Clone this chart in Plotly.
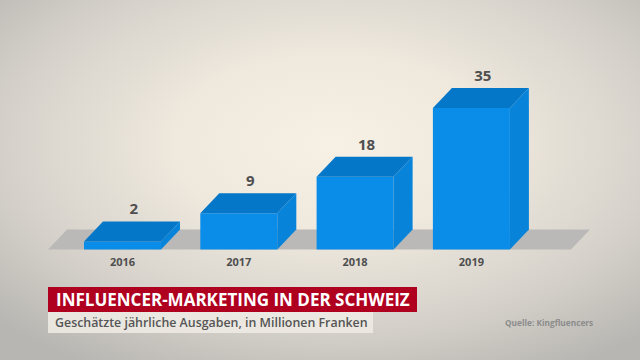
import base64
import plotly.graph_objects as go

# ---- data ----
years = ["2016", "2017", "2018", "2019"]
values = [2, 9, 18, 35]
value_labels = ["2", "9", "18", "35"]

title = "INFLUENCER-MARKETING IN DER SCHWEIZ"
subtitle = "Geschätzte jährliche Ausgaben, in Millionen Franken"
source = "Quelle: Kingfluencers"

# ---- styling / geometry (in axis units) ----
W, H = 640, 360
X0_PX, X_STEP_PX = 122.5, 116.3      # pixel of first category, pixel per category
Y0_PX, Y_STEP_PX = 249.5, 4.04       # pixel of value 0, pixel per unit
HALF_W = 38.5 / X_STEP_PX            # half front width
DX = 19.0 / X_STEP_PX                # depth offset in x
DY = 20.0 / Y_STEP_PX                # depth offset in y
FLOOR_L = (48 - X0_PX) / X_STEP_PX
FLOOR_R = (571 - X0_PX) / X_STEP_PX

C_FRONT = "#0a8de8"
C_TOP = "#0577c9"
C_SIDE = "#0783d9"
C_FLOOR = "#bab9b7"
C_TEXT = "#4f4f4f"

xr = [(0 - X0_PX) / X_STEP_PX, (W - X0_PX) / X_STEP_PX]
yr = [(Y0_PX - H) / Y_STEP_PX, Y0_PX / Y_STEP_PX]

fig = go.Figure()


def poly(xs, ys, color):
    fig.add_trace(go.Scatter(
        x=xs + [xs[0]], y=ys + [ys[0]], mode="lines", fill="toself",
        fillcolor=color, line=dict(width=0, color=color),
        hoverinfo="skip", showlegend=False))


# floor
poly([FLOOR_L, FLOOR_R, FLOOR_R + DX, FLOOR_L + DX], [0, 0, DY, DY], C_FLOOR)

# bars
for i, v in enumerate(values):
    l, r = i - HALF_W, i + HALF_W
    poly([l, r, r, l], [0, 0, v, v], C_FRONT)                          # front
    poly([l, r, r + DX, l + DX], [v, v, v + DY, v + DY], C_TOP)        # top
    poly([r, r + DX, r + DX, r], [0, DY, v + DY, v], C_SIDE)           # side

# value labels
fig.add_trace(go.Scatter(
    x=[i + DX * 0.6 for i in range(len(values))],
    y=[v + DY + 11 / Y_STEP_PX for v in values],
    mode="text", text=value_labels,
    textfont=dict(family="Open Sans", size=15, color=C_TEXT, weight=700),
    hoverinfo="skip", showlegend=False))

# year labels
fig.add_trace(go.Scatter(
    x=list(range(len(years))),
    y=[-(263 - Y0_PX) / Y_STEP_PX] * len(years),
    mode="text", text=years,
    textfont=dict(family="Open Sans", size=11, color=C_TEXT, weight=700),
    hoverinfo="skip", showlegend=False))

# background radial gradient
svg = f'''<svg xmlns="http://www.w3.org/2000/svg" width="{W}" height="{H}" viewBox="0 0 {W} {H}" preserveAspectRatio="none">
<defs><radialGradient id="g" cx="0.52" cy="0.40" r="0.72">
<stop offset="0" stop-color="#f6f0e5"/>
<stop offset="0.35" stop-color="#eee8dd"/>
<stop offset="0.7" stop-color="#d6d2cb"/>
<stop offset="1" stop-color="#b8b6b2"/>
</radialGradient></defs>
<rect width="{W}" height="{H}" fill="url(#g)"/></svg>'''
src = "data:image/svg+xml;base64," + base64.b64encode(svg.encode()).decode()


def py(p):
    return 1 - p / H


def px(p):
    return p / W


shapes = [
    dict(type="rect", xref="paper", yref="paper", x0=px(48), x1=px(373),
         y0=py(333), y1=py(312), fillcolor="rgba(240,236,229,0.85)", line=dict(width=0), layer="below"),
    dict(type="rect", xref="paper", yref="paper", x0=px(48), x1=px(417),
         y0=py(312), y1=py(287), fillcolor="#b0001f", line=dict(width=0), layer="below"),
]

annotations = [
    dict(text=title, xref="paper", yref="paper", x=px(54), y=py(299.5), xanchor="left", yanchor="middle",
         showarrow=False, font=dict(family="Open Sans", size=17.0, color="white", weight=700)),
    dict(text=subtitle, xref="paper", yref="paper", x=px(53), y=py(322), xanchor="left", yanchor="middle",
         showarrow=False, font=dict(family="Open Sans", size=12.4, color="#555555", weight=600)),
    dict(text=source, xref="paper", yref="paper", x=px(503), y=py(322), xanchor="left", yanchor="middle",
         showarrow=False, font=dict(family="Open Sans", size=8.3, color="#8c8c8c", weight=700)),
]

fig.update_layout(
    width=W, height=H, margin=dict(l=0, r=0, t=0, b=0),
    paper_bgcolor="#d9d5ce", plot_bgcolor="rgba(0,0,0,0)",
    xaxis=dict(range=xr, visible=False, fixedrange=True),
    yaxis=dict(range=yr, visible=False, fixedrange=True),
    images=[dict(source=src, xref="paper", yref="paper", x=0, y=1, sizex=1, sizey=1,
                 xanchor="left", yanchor="top", sizing="stretch", layer="below")],
    shapes=shapes, annotations=annotations, showlegend=False,
)

fig.write_html("out.html", config={"displayModeBar": False, "staticPlot": True},
               post_script="document.body.style.margin='0';document.body.style.overflow='hidden';")
